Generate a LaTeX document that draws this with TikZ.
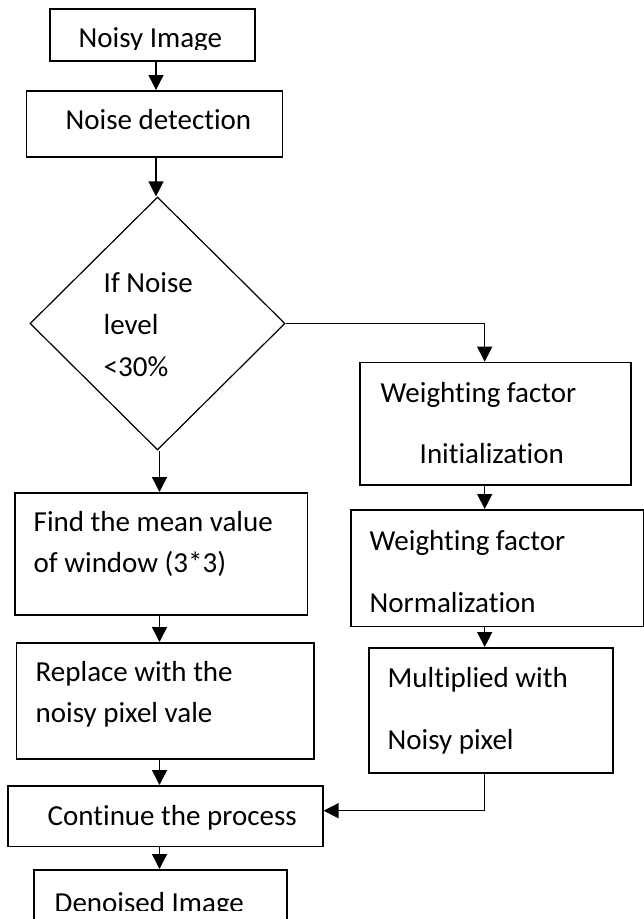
\documentclass[tikz,border=0pt]{standalone}
\usepackage{fontspec}
\setmainfont{Carlito}[Ligatures={NoCommon,NoContextual,NoRare},Contextuals={NoAlternate}]
\usetikzlibrary{arrows.meta,shapes.geometric}
\begin{document}
\begin{tikzpicture}[x=1pt,y=-1pt,
  box/.style={draw, line width=1.6pt, inner sep=0pt, anchor=north west},
  arr/.style={line width=1.4pt, -{Triangle[width=15pt,length=15pt]}},
  lbl/.style={anchor=base west, inner sep=0pt, font=\fontsize{29}{35}\selectfont}]
\clip (0,0) rectangle (644,919);
\useasboundingbox (0,0) rectangle (644,919);
% boxes
\node[box, minimum width=204.7pt, minimum height=52pt] (noisy) at (49.3,8.3) {};
\node[box, minimum width=256pt, minimum height=66pt] (detect) at (25.7,90) {};
\node[diamond, draw, line width=1.2pt, inner sep=0pt, minimum width=255pt, minimum height=253pt] (d) at (157.5,323.5) {};
\node[box, minimum width=271pt, minimum height=122.3pt] (wfinit) at (359,361.7) {};
\node[box, minimum width=293pt, minimum height=116.5pt] (wfnorm) at (350,509) {};
\node[box, minimum width=244pt, minimum height=125pt] (mult) at (368,647) {};
\node[box, minimum width=292.7pt, minimum height=122pt] (mean) at (14,492) {};
\node[box, minimum width=297.3pt, minimum height=116pt] (repl) at (15.7,642) {};
\node[box, minimum width=314.7pt, minimum height=60.7pt] (cont) at (7.3,785) {};
\node[box, minimum width=253pt, minimum height=60pt] (den) at (33,869) {};
% texts
\begin{scope}
\clip (0,0) rectangle (644,49);
\node[lbl] (t1) at (78.5,47) {Noisy Image};
\end{scope}
\node[lbl] (t2) at (65.5,129) {Noise detection};
\node[lbl] (t3) at (103.5,292.7) {If Noise};
\node[lbl] (t4) at (103.5,334) {level};
\node[lbl] (t5) at (103.5,376) {<30\%};
\node[lbl] (t6) at (380.5,402) {Weighting factor};
\node[lbl] (t7) at (419.5,463) {Initialization};
\node[lbl] (t8) at (369.5,550) {Weighting factor};
\node[lbl] (t9) at (369.5,612) {Normalization};
\node[lbl] (t10) at (387.5,687) {Multiplied with};
\node[lbl] (t11) at (387.5,749) {Noisy pixel};
\node[lbl] (t12) at (33.5,531) {Find the mean value};
\node[lbl] (t13) at (33.5,572) {of window (3*3)};
\node[lbl] (t14) at (35.5,681) {Replace with the};
\node[lbl] (t15) at (35.5,722) {noisy pixel vale};
\node[lbl] (t16) at (47.5,825) {Continue the process};
\begin{scope}
\clip (0,0) rectangle (644,910);
\node[lbl] (t17) at (54.5,912) {Denoised Image};
\end{scope}
% column coordinates
\coordinate (c1) at (156,0);
\coordinate (c2) at (484.7,0);
\coordinate (c3) at (159.5,0);
\coordinate (turn) at (484.7,810.7);
% connectors
\draw[arr] (noisy.south -| c1) -- (detect.north -| c1);
\draw[arr] (detect.south -| c1) -- (d.north -| c1);
\draw[arr] (d.east) -| (wfinit.north -| c2);
\draw[arr] (wfinit.south -| c2) -- (wfnorm.north -| c2);
\draw[arr] (wfnorm.south -| c2) -- (mult.north -| c2);
\draw[arr] (mult.south -| c2) -- (turn) -- (turn -| cont.east);
\draw[arr] (d.south -| c3) -- (mean.north -| c3);
\draw[arr] (mean.south -| c3) -- (repl.north -| c3);
\draw[arr] (repl.south -| c3) -- (cont.north -| c3);
\draw[arr] (cont.south -| c3) -- (den.north -| c3);
\end{tikzpicture}
\end{document}
